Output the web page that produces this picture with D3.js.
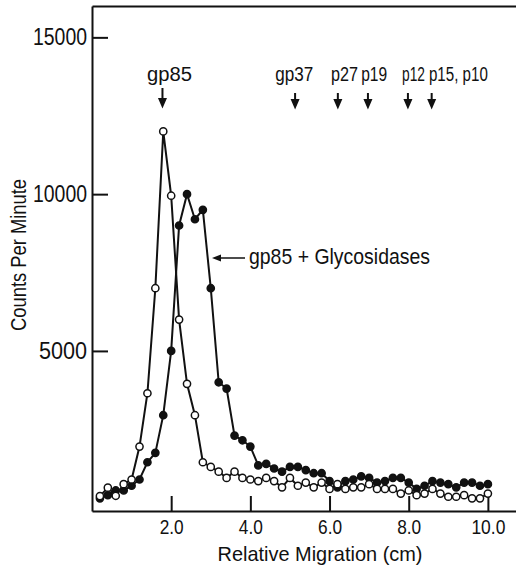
<!DOCTYPE html>
<html>
<head>
<meta charset="utf-8">
<script src="https://cdn.jsdelivr.net/npm/d3@7"></script>
<style>
	body { margin: 0; background: #fff; }
	svg text { font-family: "Liberation Sans", Arial, sans-serif; fill: #111; }
</style>
</head>
<body>
<div id="chartContainer"></div>
<script>
// relative migration (cm), one fraction every 0.2 cm
let migration = [0.2, 0.4, 0.6, 0.8, 1.0, 1.2, 1.4, 1.6, 1.8, 2.0,
	2.2, 2.4, 2.6, 2.8, 3.0, 3.2, 3.4, 3.6, 3.8, 4.0,
	4.2, 4.4, 4.6, 4.8, 5.0, 5.2, 5.4, 5.6, 5.8, 6.0,
	6.2, 6.4, 6.6, 6.8, 7.0, 7.2, 7.4, 7.6, 7.8, 8.0,
	8.2, 8.4, 8.6, 8.8, 9.0, 9.2, 9.4, 9.6, 9.8, 10.0];

// gp85 alone (open circles)
let gp85Counts = [370, 640, 380, 750, 900, 1950, 3650, 7000, 12000, 9950,
	6000, 3950, 2950, 1450, 1300, 1150, 950, 1150, 950, 900,
	850, 950, 850, 650, 950, 700, 800, 650, 800, 600,
	750, 600, 650, 650, 750, 600, 600, 600, 450, 550,
	400, 450, 600, 450, 350, 350, 400, 300, 300, 450];

// gp85 + glycosidases (filled circles)
let glycoCounts = [300, 400, 550, 550, 700, 900, 1450, 1750, 2950, 5000,
	9000, 10000, 9200, 9500, 7000, 4000, 3800, 2300, 2150, 1950,
	1350, 1400, 1250, 1150, 1300, 1300, 1200, 1100, 1100, 850,
	650, 850, 900, 1000, 950, 800, 850, 950, 950, 800,
	600, 700, 850, 800, 750, 650, 800, 800, 700, 750];

let yTicks = [5000, 10000, 15000];
let xTicks = [2, 4, 6, 8, 10];

// marker proteins and where they ran
let markerNames = ["gp85", "gp37", "p27", "p19", "p12", "p15, p10"];
let markerPos = [1.78, 5.13, 6.21, 6.97, 7.98, 8.58];
let markerLabelPos = [1.39, 4.63, 6.04, 6.80, 7.83, 8.51];
let markerLabelWidth = [45, 38, 27, 26, 23, 59];

function initializeChart(){

	let svg = d3.select("#chartContainer")
		.append("svg")
		.attr("width", 516)
		.attr("height", 569);

	let xScale = d3.scaleLinear()
		.domain([0, 10.71])
		.range([92, 516]);

	let yScale = d3.scaleLinear()
		.domain([-105, 16000])
		.range([511, 6]);

	// left axis, ticks pointing inward
	let yAxis = svg.append("g")
		.attr("transform", "translate(92, 0)")
		.call(d3.axisLeft(yScale)
			.tickValues(yTicks)
			.tickFormat(d3.format("d"))
			.tickSizeInner(-16)
			.tickSizeOuter(0)
			.tickPadding(5));
	yAxis.selectAll("text")
		.attr("font-size", 23)
		.attr("textLength", d => d >= 10000 ? 54 : 48)
		.attr("lengthAdjust", "spacingAndGlyphs");

	let xAxis = svg.append("g")
		.attr("transform", "translate(0, 511)")
		.call(d3.axisBottom(xScale)
			.tickValues(xTicks)
			.tickFormat(d3.format(".1f"))
			.tickSizeInner(-15)
			.tickSizeOuter(0)
			.tickPadding(9));
	xAxis.selectAll("text")
		.attr("font-size", 20)
		.attr("textLength", d => d >= 10 ? 34 : 24)
		.attr("lengthAdjust", "spacingAndGlyphs");

	svg.append("g")
		.attr("transform", "translate(0, 6)")
		.call(d3.axisTop(xScale).tickValues([]).tickSizeOuter(0));

	svg.selectAll(".domain, .tick line")
		.attr("stroke", "#111")
		.attr("stroke-width", 2);

	svg.append("text")
		.attr("transform", "translate(26, 255) rotate(-90)")
		.attr("text-anchor", "middle")
		.attr("font-size", 22)
		.attr("textLength", 152)
		.attr("lengthAdjust", "spacingAndGlyphs")
		.text("Counts Per Minute");

	svg.append("text")
		.attr("x", 320)
		.attr("y", 561)
		.attr("text-anchor", "middle")
		.attr("font-size", 21)
		.attr("textLength", 205)
		.attr("lengthAdjust", "spacingAndGlyphs")
		.text("Relative Migration (cm)");

	let line = d3.line()
		.x((d, i) => xScale(migration[i]))
		.y(d => yScale(d));

	// filled series first, open circles on top
	drawSeries(svg, glycoCounts, line, xScale, yScale, "#111");
	drawSeries(svg, gp85Counts, line, xScale, yScale, "#fff");

	// marker arrows
	svg.selectAll(".markerArrow")
		.data(markerPos)
		.enter()
		.append("path")
		.attr("class", "markerArrow")
		.attr("d", (d, i) => arrowDown(xScale(d), i == 0 ? 88 : 93, i == 0 ? 106 : 107))
		.attr("fill", "#111")
		.attr("stroke", "#111")
		.attr("stroke-width", 2);

	// labels squeezed sideways with a transform so the lettering stays narrow
	svg.selectAll(".markerName")
		.data(markerNames)
		.enter()
		.append("text")
		.attr("class", "markerName")
		.attr("font-size", 21)
		.text(d => d)
		.attr("transform", function(d, i) {
			let k = markerLabelWidth[i] / this.getComputedTextLength();
			return "translate(" + xScale(markerLabelPos[i]) + ", 81) scale(" + k + ", 1)";
		});

	// label for the glycosidase curve
	let labelY = 258;
	svg.append("line")
		.attr("x1", 218)
		.attr("x2", 245)
		.attr("y1", labelY)
		.attr("y2", labelY)
		.attr("stroke", "#111")
		.attr("stroke-width", 1.5);
	svg.append("path")
		.attr("d", "M212," + labelY + "L221," + (labelY - 3.5) + "L221," + (labelY + 3.5) + "Z")
		.attr("fill", "#111");
	svg.append("text")
		.attr("x", 249)
		.attr("y", 264)
		.attr("font-size", 22)
		.attr("textLength", 181)
		.attr("lengthAdjust", "spacingAndGlyphs")
		.text("gp85 + Glycosidases");
}

function drawSeries(svg, values, line, xScale, yScale, fill)
{
	svg.append("path")
		.datum(values)
		.attr("d", line)
		.attr("fill", "none")
		.attr("stroke", "#111")
		.attr("stroke-width", 2);

	svg.append("g")
		.selectAll("circle")
		.data(values)
		.enter()
		.append("circle")
		.attr("cx", (d, i) => xScale(migration[i]))
		.attr("cy", d => yScale(d))
		.attr("r", 3.6)
		.attr("fill", fill)
		.attr("stroke", "#111")
		.attr("stroke-width", 1.5);
}

function arrowDown(x, top, bottom)
{
	return "M" + x + "," + top + "L" + x + "," + (bottom - 6)
		+ "M" + (x - 3) + "," + (bottom - 7) + "L" + (x + 3) + "," + (bottom - 7) + "L" + x + "," + bottom + "Z";
}

initializeChart();
</script>
</body>
</html>
